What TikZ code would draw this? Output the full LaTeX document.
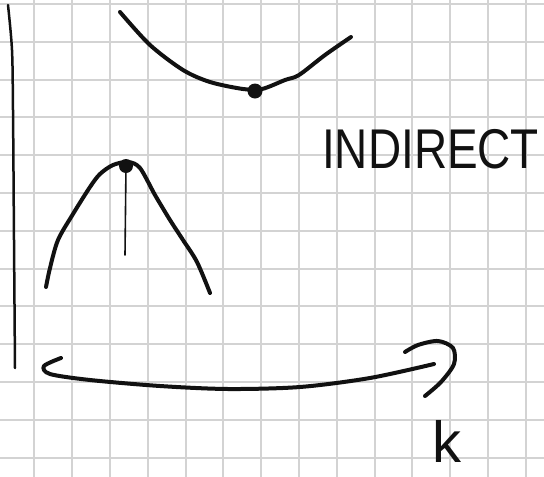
\documentclass[tikz,border=0pt]{standalone}
\usepackage{fontspec}
\setmainfont{Liberation Sans}
\usetikzlibrary{arrows.meta,positioning}
\definecolor{ink}{HTML}{111111}
\definecolor{gridgray}{HTML}{D3D3D3}
\tikzset{
  band/.style={line width=4pt,draw=ink,line cap=round,line join=round},
  dot/.style={circle,fill=ink,inner sep=0pt},
  hand/.style={inner sep=0pt,text=ink}
}
\begin{document}
\begin{tikzpicture}[x=1pt,y=-1pt]
\useasboundingbox (0,0) rectangle (544,477);
\fill[white] (0,0) rectangle (544,477);
\foreach \i in {0,...,13} \draw[gridgray,line width=2pt] ({34.3+37.8*\i},0) -- ({34.3+37.8*\i},477);
\foreach \j in {0,...,12} \draw[gridgray,line width=2pt] (0,{4+37.8*\j}) -- (544,{4+37.8*\j});
\draw[ink,line width=2.5pt,line cap=round] plot[smooth] coordinates {(8,5) (12,50) (13,110) (14,240) (15,368)};
\draw[band] plot[smooth] coordinates {(120,12) (150,45) (183,70) (210,82) (243,89) (262,89) (285,80) (299,75) (325,55) (351,37)};
\draw[band] plot[smooth] coordinates {(46,287) (50,268) (58,240) (73,214) (90,187) (100,174) (113,165) (128,162) (140,168) (155,195) (170,220) (183,240) (197,262) (210,293)};
\node[dot,minimum size=15pt] (cbmin) at (255,91) {};
\node[dot,minimum size=14pt] (vbmax) at (126,166) {};
\coordinate (drop) at (125,255);
\draw[ink,line width=1.6pt,line cap=round] (vbmax.center) -- (drop);
\coordinate (kstart) at (61,358);
\coordinate (kend) at (434,364);
\draw[band] plot[smooth,tension=0.5] coordinates {(kstart) (44,366) (50,374) (90,380) (160,386) (228,389) (300,387) (370,378) (kend)};
\draw[band] plot[smooth] coordinates {(405,352) (418,345) (438,341) (453,348) (454,364) (441,382) (425,396)};
\node[hand,anchor=base west,font=\fontsize{56}{60}\selectfont] (indirect) at (322,168) {\scalebox{0.82}[1]{INDIRECT}};
\node[hand,anchor=base west,font=\fontsize{58}{60}\selectfont] (kaxis) at (432,462) {k};
\end{tikzpicture}
\end{document}
